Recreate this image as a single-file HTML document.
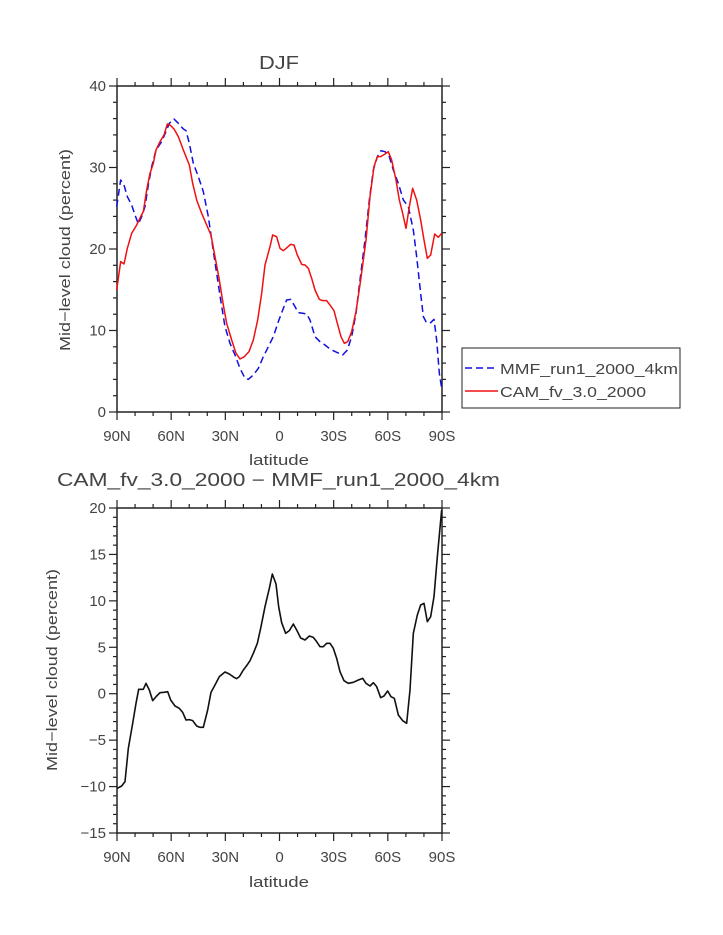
<!DOCTYPE html>
<html><head><style>body{margin:0;background:#fff}svg{display:block}text{font-family:"Liberation Sans",sans-serif;fill:#444}</style></head><body>
<svg width="723" height="935" xmlns="http://www.w3.org/2000/svg">
<g stroke="#222" stroke-width="1.5" fill="none">
<rect x="117" y="86" width="325" height="326"/>
<rect x="117" y="508" width="325" height="325"/>
</g>
<g id="ticks" stroke="#222" stroke-width="1.2"></g>
<g transform="translate(50,60) scale(0.33333)" fill="none" stroke-linejoin="round">
<polyline vector-effect="non-scaling-stroke" stroke="#1010e0" stroke-width="1.5" stroke-dasharray="7,4" points="200,440 212,360 222,375 232,410 245,435 255,465 265,492 275,470 285,440 295,375 305,320 318,270 335,245 350,210 358,190 372,177 385,190 400,207 408,212 418,250 430,310 445,350 460,395 475,470 488,560 500,640 512,720 525,800 540,850 555,885 570,925 585,955 595,958 610,945 625,925 640,890 655,860 670,830 685,785 700,745 710,720 722,718 735,740 745,758 760,760 770,762 780,780 795,830 810,845 825,855 840,867 860,877 878,885 892,870 905,830 918,760 930,660 945,540 958,420 970,330 982,290 993,272 1005,275 1018,290 1030,330 1045,370 1060,420 1075,440 1090,510 1100,590 1112,700 1120,770 1128,785 1140,790 1152,778 1160,840 1168,940 1175,985"/>
<polyline vector-effect="non-scaling-stroke" stroke="#f01010" stroke-width="1.5" points="200,690 212,605 222,612 232,565 245,520 260,495 272,470 280,455 290,390 300,340 310,310 318,270 330,245 342,225 352,192 360,195 372,207 385,230 400,270 418,315 428,370 440,420 455,460 470,495 483,525 495,590 508,660 520,735 530,790 545,840 558,880 570,897 583,890 597,875 610,840 623,780 635,700 645,615 660,560 668,525 680,530 690,565 700,572 712,562 722,553 732,555 742,585 755,613 765,615 775,625 785,655 795,690 808,718 818,722 830,722 840,735 852,752 862,790 873,830 883,850 893,845 905,815 918,755 932,660 948,540 960,410 972,320 982,290 992,290 1005,282 1015,275 1025,300 1038,360 1048,420 1058,460 1068,505 1078,440 1088,385 1100,420 1112,480 1122,540 1132,595 1142,585 1154,522 1165,532 1175,520"/>
</g>
<g transform="translate(40,490) scale(0.33333)" fill="none">
<polyline vector-effect="non-scaling-stroke" stroke="#111" stroke-width="1.6" stroke-linejoin="round" points="232,895 245,888 255,875 265,775 278,700 288,640 296,598 305,598 310,598 318,580 328,600 338,632 350,618 360,608 372,607 383,605 392,630 405,648 418,655 428,667 438,690 448,689 458,692 470,708 480,712 490,712 503,660 513,607 525,585 538,560 555,546 568,552 582,562 590,566 598,560 610,540 620,527 630,512 640,490 652,460 662,415 675,350 688,295 697,252 708,282 716,350 725,398 737,430 748,422 760,402 770,420 782,444 795,450 808,438 820,442 830,455 840,470 850,470 860,460 870,460 880,475 890,505 900,545 912,572 925,580 940,577 955,570 968,565 978,580 990,588 1000,578 1010,590 1022,623 1032,618 1043,603 1053,620 1063,625 1075,675 1088,692 1100,700 1110,600 1120,430 1132,375 1142,345 1152,340 1162,395 1172,380 1182,320 1192,200 1205,60"/>
</g>
<rect x="462" y="348" width="218" height="60" fill="none" stroke="#222" stroke-width="1"/>
<line x1="465" y1="368" x2="498" y2="368" stroke="#1010e0" stroke-width="1.5" stroke-dasharray="7,4"/>
<line x1="465" y1="391" x2="498" y2="391" stroke="#f01010" stroke-width="1.5"/>
<text x="500" y="374" font-size="15" textLength="178" lengthAdjust="spacingAndGlyphs">MMF_run1_2000_4km</text>
<text x="500" y="397" font-size="15" textLength="146" lengthAdjust="spacingAndGlyphs">CAM_fv_3.0_2000</text>
<text x="279" y="69" font-size="18" text-anchor="middle" textLength="40" lengthAdjust="spacingAndGlyphs">DJF</text>
<text x="57" y="486" font-size="18" textLength="443" lengthAdjust="spacingAndGlyphs">CAM_fv_3.0_2000 − MMF_run1_2000_4km</text>
<text x="279" y="465" font-size="15" text-anchor="middle" textLength="60" lengthAdjust="spacingAndGlyphs">latitude</text>
<text x="279" y="887" font-size="15" text-anchor="middle" textLength="60" lengthAdjust="spacingAndGlyphs">latitude</text>
<text transform="translate(70,250) rotate(-90)" font-size="15" text-anchor="middle" textLength="202" lengthAdjust="spacingAndGlyphs">Mid−level cloud (percent)</text>
<text transform="translate(57,670) rotate(-90)" font-size="15" text-anchor="middle" textLength="202" lengthAdjust="spacingAndGlyphs">Mid−level cloud (percent)</text>
<g id="labels" font-size="15"></g>
<script>
var ns="http://www.w3.org/2000/svg",t=document.getElementById('ticks'),L=document.getElementById('labels');
function ln(a,b,c,d){var e=document.createElementNS(ns,'line');e.setAttribute('x1',a);e.setAttribute('y1',b);e.setAttribute('x2',c);e.setAttribute('y2',d);t.appendChild(e);}
function tx(x,y,s,anc){var e=document.createElementNS(ns,'text');e.setAttribute('x',x);e.setAttribute('y',y);e.setAttribute('text-anchor',anc);e.textContent=s;L.appendChild(e);}
var xl=['90N','60N','30N','0','30S','60S','90S'];
[[86,412],[508,833]].forEach(function(p){
 for(var i=0;i<=18;i++){var x=117+325*i/18,m=i%3==0,l=m?8:4;ln(x,p[0],x,p[0]-l);ln(x,p[1],x,p[1]+l);
  if(m)tx(x,p[1]+29,xl[i/3],'middle');}
});
for(var i=0;i<=20;i++){var y=412-326*i/20,m=i%5==0,l=m?8:4;ln(117,y,117-l,y);ln(442,y,442+l,y);if(m)tx(106,y+5,String(i*2),'end');}
for(var i=0;i<=35;i++){var y=833-325*i/35,m=i%5==0,l=m?8:4;ln(117,y,117-l,y);ln(442,y,442+l,y);if(m){var v=i-15;tx(106,y+5,(v<0?'−':'')+Math.abs(v),'end');}}
</script>
</svg>
</body></html>
